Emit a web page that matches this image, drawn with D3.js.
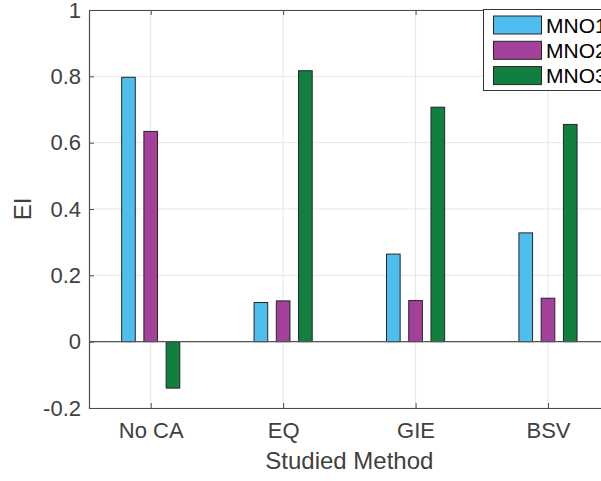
<!DOCTYPE html>
<html>
<head>
<meta charset="utf-8">
<script src="https://cdn.jsdelivr.net/npm/d3@7"></script>
<style>
  html, body { margin: 0; padding: 0; background: #fff; }
  svg { display: block; font-family: "Liberation Sans", Arial, Helvetica, sans-serif; }
</style>
</head>
<body>
<svg id="chart" width="601" height="481"></svg>
<script>
const categories = ["No CA", "EQ", "GIE", "BSV"];
const seriesNames = ["MNO1", "MNO2", "MNO3"];
const mno1 = [0.797, 0.118, 0.264, 0.328];
const mno2 = [0.634, 0.123, 0.124, 0.131];
const mno3 = [-0.140, 0.817, 0.707, 0.655];
const yTicks = [-0.2, 0, 0.2, 0.4, 0.6, 0.8, 1];
const seriesValues = [mno1, mno2, mno3];
const colors = ["#4DBEEE", "#A2409A", "#117F40"];

const svg = d3.select("#chart");
const pLeft = 89, pRight = 609.7, pTop = 10, pBottom = 408;

const x = d3.scaleLinear().domain([0.534, 4.466]).range([pLeft, pRight]);
const y = d3.scaleLinear().domain([-0.2, 1]).range([pBottom, pTop]);
const xPos = categories.map((c, i) => i + 1);

const axisColor = "#4D4D4D";
const textColor = "#404040";

// grid
const grid = svg.append("g");
grid.selectAll(".gy").data(yTicks).join("line")
  .attr("x1", pLeft).attr("x2", pRight)
  .attr("y1", d => y(d)).attr("y2", d => y(d))
  .attr("stroke", "#E6E6E6").attr("stroke-width", 1);
grid.selectAll(".gx").data(xPos).join("line")
  .attr("x1", d => x(d)).attr("x2", d => x(d))
  .attr("y1", pTop).attr("y2", pBottom)
  .attr("stroke", "#E6E6E6").attr("stroke-width", 1);

// bars
const offsets = [-0.168, 0, 0.168];
const bw = 0.103;
const barsG = svg.append("g");
seriesValues.forEach((vals, s) => {
  barsG.selectAll(null).data(vals).join("rect")
    .attr("x", (d, i) => x(xPos[i] + offsets[s] - bw / 2))
    .attr("width", x(bw) - x(0))
    .attr("y", d => Math.min(y(d), y(0)))
    .attr("height", d => Math.abs(y(d) - y(0)))
    .attr("fill", colors[s])
    .attr("stroke", "#262626").attr("stroke-width", 1);
});

// baseline
svg.append("line").attr("x1", pLeft).attr("x2", pRight)
  .attr("y1", y(0)).attr("y2", y(0))
  .attr("stroke", "#555").attr("stroke-width", 1.2);

// axes
const xAxis = d3.axisBottom(x).tickValues(xPos).tickFormat((d, i) => categories[i]).tickSizeInner(-5).tickSizeOuter(0).tickPadding(14);
const gx = svg.append("g").attr("transform", `translate(0,${pBottom})`).call(xAxis);
const xTop = d3.axisTop(x).tickValues(xPos).tickFormat("").tickSizeInner(-5).tickSizeOuter(0);
const gxt = svg.append("g").attr("transform", `translate(0,${pTop})`).call(xTop);
const yAxis = d3.axisLeft(y).tickValues(yTicks).tickFormat(d => d === 0 ? "0" : String(+d.toFixed(1))).tickSizeInner(-5).tickSizeOuter(0).tickPadding(8);
const gy = svg.append("g").attr("transform", `translate(${pLeft},0)`).call(yAxis);

[gx, gxt, gy].forEach(g => {
  g.select(".domain").attr("stroke", axisColor).attr("stroke-width", 1.2);
  g.selectAll(".tick line").attr("stroke", axisColor);
  g.selectAll(".tick text").attr("fill", textColor).style("font-size", "22px");
});

// axis titles
svg.append("text").attr("x", (pLeft + pRight) / 2)
  .attr("y", 469).attr("text-anchor", "middle")
  .attr("fill", textColor).style("font-size", "24px").text("Studied Method");
svg.append("text").attr("transform", `translate(31,${(pTop + pBottom) / 2}) rotate(-90)`)
  .attr("text-anchor", "middle").attr("fill", textColor)
  .style("font-size", "24px").text("EI");

// legend
const lg = svg.append("g");
lg.append("rect").attr("x", 483.5).attr("y", 9.5).attr("width", 140).attr("height", 81)
  .attr("fill", "#fff").attr("stroke", "#333").attr("stroke-width", 1);
seriesNames.forEach((n, i) => {
  const cy = 25 + i * 25.3;
  lg.append("rect").attr("x", 493.5).attr("y", cy - 9).attr("width", 48).attr("height", 18)
    .attr("fill", colors[i]).attr("stroke", "#262626").attr("stroke-width", 1);
  lg.append("text").attr("x", 546).attr("y", cy + 7.5)
    .attr("fill", "#000").style("font-size", "21px").text(n);
});
</script>
</body>
</html>
